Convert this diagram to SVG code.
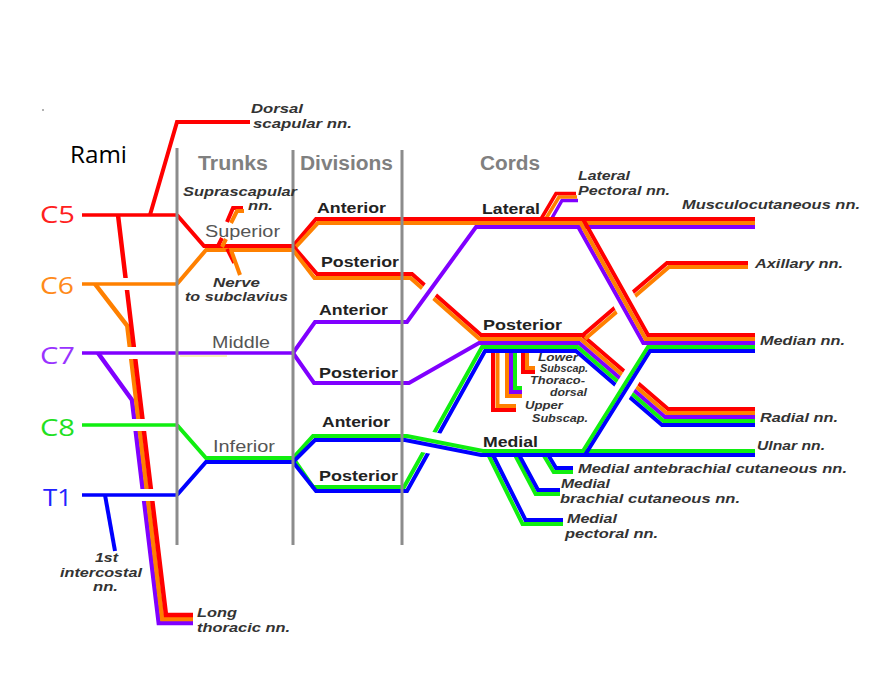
<svg xmlns="http://www.w3.org/2000/svg" width="892" height="673" viewBox="0 0 892 673">
<style>
.ln{fill:none;stroke-width:4;stroke-linejoin:miter;stroke-miterlimit:6}
.th{stroke-width:3.5}
.lt{stroke-width:4.5}
.r{stroke:#ff0000}.o{stroke:#ff8000}.p{stroke:#8000ff}.g{stroke:#10ee10}.b{stroke:#0000ff}
.w{stroke:#ffffff;fill:none}
.grid{stroke:#8c8c8c;stroke-width:3}
text{font-family:"Liberation Sans",Arial,sans-serif}
.it{font-size:13px;font-weight:bold;font-style:italic;fill:#333}
.its{font-size:10px;font-weight:bold;font-style:italic;fill:#333}
.dv{font-size:15px;font-weight:bold;fill:#222}
.tr{font-size:16px;fill:#555}
.hd{font-size:20px;font-weight:bold;fill:#808080}
.rm{font-family:"Open Sans","Noto Sans",sans-serif;font-size:24px}
</style>
<rect width="892" height="673" fill="#ffffff"/>
<circle cx="43" cy="110" r="1" fill="#999"/>

<g id="connectors">
  <!-- long thoracic bundle -->
  <path class="ln lt p" d="M98,353 L132,400 L158.8,623 L193,623"/>
  <path class="ln lt o" d="M95,284 L127.3,326 L162.3,619 L193,619"/>
  <path class="ln lt r" d="M118,215 L166,615 L193,615"/>
  <!-- bridges over long thoracic -->
  <path class="w" stroke-width="12" d="M117,284 H137 M122,353 H146 M128,425 H153 M135,495 H161"/>
  <!-- rami -->
  <path class="ln th r" d="M82,215 H177"/>
  <path class="ln th o" d="M82,284 H177"/>
  <path class="ln th p" d="M82,353 H293"/>
  <path class="ln th g" d="M82,425 H177"/>
  <path class="ln th b" d="M82,495 H177"/>
  <path d="M180,356 H227" stroke="#f5ec9c" stroke-width="1.5"/>
  <!-- dorsal scapular, 1st intercostal -->
  <path class="ln r" d="M150,215 L177,122 H250"/>
  <path class="ln b" d="M105,495 L115,551"/>
  <!-- trunks -->
  <path class="ln r" d="M177,215 L204,246 H293"/>
  <path class="ln o" d="M177,284 L206,250 H293"/>
  <path class="ln g" d="M177,425 L206,458 H293"/>
  <path class="ln b" d="M177,495 L206,462 H293"/>
  <!-- suprascapular / subclavius -->
  <path class="ln r" d="M218,246 L222,238 M227,222 L233,208 H243"/>
  <path class="ln o" d="M222,247 L226,239 M231,223 L237,211 H244"/>
  <path class="ln th r" d="M227,249 L234,263"/>
  <path class="ln o" stroke-width="4.5" d="M231,250 L240,275"/>
  <!-- lateral pectoral -->
  <path class="ln th p" d="M548,225 L562,200.5 H578"/>
  <path class="ln th o" d="M544.5,221 L559,197 H577"/>
  <path class="ln th r" d="M541,219 L556,193.5 H576"/>
  <!-- superior anterior -> lateral -> musculocutaneous -->
  <path class="ln r" d="M293,246 L316,219 H755"/>
  <path class="ln o" d="M293,250 L318,223 H755"/>
  <!-- subscapular branches -->
  <path class="ln r" d="M493,345 V410 H516"/>
  <path class="ln o" d="M497.5,345 V406 H516"/>
  <path class="ln o" d="M507,345 V396 H522"/>
  <path class="ln p" d="M511,345 V392 H522"/>
  <path class="ln g" d="M515,345 V388 H522"/>
  <path class="ln r" d="M523,345 V372 H535"/>
  <path class="ln o" d="M527,345 V368 H535"/>
  <!-- posterior divisions -> posterior cord -> radial -->
  <path class="ln r" d="M293,246 L317,274 H412 L481,335 H582 L668,409 H755"/>
  <path class="ln o" d="M293,250 L314.5,278 H410.5 L479.5,339 H580.5 L666.5,413 H755"/>
  <path class="ln p" d="M293,353 L314,383 H409 L479,343 H579 L665,417 H755"/>
  <path class="ln g" d="M293,458 L313,487 H404 L482,347 H577.6 L663.6,421 H755"/>
  <path class="ln b" d="M293,462 L316,491 H407 L485,351 H576 L662,425 H755"/>
  <!-- axillary -->
  <path class="ln o" d="M585,339 L669,267 H748"/>
  <path class="ln r" d="M583,335 L667,263 H748"/>
  <!-- middle anterior -> lateral cord -->
  <path class="w" stroke-width="15" d="M421.5,302 L439,278"/>
  <path class="ln p" d="M293,353 L315,322 H407 L476,227 H755"/>
  <!-- lateral root of median -->
  <path class="w" stroke-width="24" d="M615.9,286 L632.7,316"/>
  <path class="ln p" d="M578.3,227 L643.3,343 H755"/>
  <path class="ln o" d="M580.6,223 L645.6,339 H755"/>
  <path class="ln r" d="M583,219 L648,335 H755"/>
  <!-- medial cord branches -->
  <path class="ln g" d="M487.5,453 L522.5,524 H563"/>
  <path class="ln b" d="M492,453 L525.5,520 H563"/>
  <path class="ln g" d="M514,453 L535.6,494 H560"/>
  <path class="ln b" d="M518,453 L538,490 H560"/>
  <path class="ln g" d="M542.3,453 L553.7,472 H573"/>
  <path class="ln b" d="M547,453 L556,468 H573"/>
  <!-- inferior anterior -> medial cord -> ulnar -->
  <path class="w" stroke-width="22" d="M416,439.8 L446,445.7"/>
  <path class="ln g" d="M293,458 L313,436 H407 L483,451 H755"/>
  <path class="ln b" d="M293,462 L315,440 H405 L481,455 H755"/>
  <!-- medial root of median -->
  <path class="w" stroke-width="19" d="M617,400 L638.4,366"/>
  <path class="ln g" d="M583,451 L648,347 H755"/>
  <path class="ln b" d="M585,455 L650,351 H755"/>
</g>

<g id="grid">
  <path class="grid" d="M177,148 V545 M293,150 V545 M402,150 V545"/>
</g>

<g id="headers">
  <text class="rm" x="70" y="163" textLength="57" lengthAdjust="spacingAndGlyphs" fill="#000">Rami</text>
  <text class="hd" x="198" y="170" textLength="70" lengthAdjust="spacingAndGlyphs">Trunks</text>
  <text class="hd" x="300" y="170" textLength="93" lengthAdjust="spacingAndGlyphs">Divisions</text>
  <text class="hd" x="480" y="170" textLength="60" lengthAdjust="spacingAndGlyphs">Cords</text>
</g>

<g id="rami">
  <text class="rm" x="40" y="223" textLength="35" lengthAdjust="spacingAndGlyphs" fill="#ff2020">C5</text>
  <text class="rm" x="40" y="294" textLength="34" lengthAdjust="spacingAndGlyphs" fill="#ff8a1a">C6</text>
  <text class="rm" x="40" y="364" textLength="35" lengthAdjust="spacingAndGlyphs" fill="#9933ff">C7</text>
  <text class="rm" x="40" y="436" textLength="35" lengthAdjust="spacingAndGlyphs" fill="#22e022">C8</text>
  <text class="rm" x="43" y="506" textLength="29" lengthAdjust="spacingAndGlyphs" fill="#2222ff">T1</text>
</g>

<g id="trunks">
  <text class="tr" x="205" y="237" textLength="75" lengthAdjust="spacingAndGlyphs">Superior</text>
  <text class="tr" x="212" y="348" textLength="58" lengthAdjust="spacingAndGlyphs">Middle</text>
  <text class="tr" x="213" y="452" textLength="62" lengthAdjust="spacingAndGlyphs">Inferior</text>
</g>

<g id="divisions">
  <text class="dv" x="317" y="213" textLength="69" lengthAdjust="spacingAndGlyphs">Anterior</text>
  <text class="dv" x="321" y="267" textLength="78" lengthAdjust="spacingAndGlyphs">Posterior</text>
  <text class="dv" x="319" y="315" textLength="69" lengthAdjust="spacingAndGlyphs">Anterior</text>
  <text class="dv" x="319" y="378" textLength="79" lengthAdjust="spacingAndGlyphs">Posterior</text>
  <text class="dv" x="322" y="427" textLength="68" lengthAdjust="spacingAndGlyphs">Anterior</text>
  <text class="dv" x="319" y="481" textLength="79" lengthAdjust="spacingAndGlyphs">Posterior</text>
</g>

<g id="cords">
  <text class="dv" x="482" y="214" textLength="58" lengthAdjust="spacingAndGlyphs">Lateral</text>
  <text class="dv" x="483" y="330" textLength="79" lengthAdjust="spacingAndGlyphs">Posterior</text>
  <text class="dv" x="483" y="447" textLength="55" lengthAdjust="spacingAndGlyphs">Medial</text>
</g>

<g id="branches">
  <text class="it" x="251" y="113" textLength="52" lengthAdjust="spacingAndGlyphs">Dorsal</text>
  <text class="it" x="253" y="128" textLength="99" lengthAdjust="spacingAndGlyphs">scapular nn.</text>
  <text class="it" x="183" y="196" textLength="114" lengthAdjust="spacingAndGlyphs">Suprascapular</text>
  <text class="it" x="248" y="210" textLength="25" lengthAdjust="spacingAndGlyphs">nn.</text>
  <text class="it" x="213" y="287" textLength="47" lengthAdjust="spacingAndGlyphs">Nerve</text>
  <text class="it" x="185" y="301" textLength="103" lengthAdjust="spacingAndGlyphs">to subclavius</text>
  <text class="it" x="578" y="180" textLength="52" lengthAdjust="spacingAndGlyphs">Lateral</text>
  <text class="it" x="578" y="195" textLength="92" lengthAdjust="spacingAndGlyphs">Pectoral nn.</text>
  <text class="it" x="682" y="209" textLength="178" lengthAdjust="spacingAndGlyphs">Musculocutaneous nn.</text>
  <text class="it" x="755" y="268" textLength="88" lengthAdjust="spacingAndGlyphs">Axillary nn.</text>
  <text class="it" x="760" y="345" textLength="85" lengthAdjust="spacingAndGlyphs">Median nn.</text>
  <text class="it" x="760" y="422" textLength="78" lengthAdjust="spacingAndGlyphs">Radial nn.</text>
  <text class="it" x="757" y="450" textLength="68" lengthAdjust="spacingAndGlyphs">Ulnar nn.</text>
  <text class="it" x="578" y="473" textLength="269" lengthAdjust="spacingAndGlyphs">Medial antebrachial cutaneous nn.</text>
  <text class="it" x="561" y="488" textLength="49" lengthAdjust="spacingAndGlyphs">Medial</text>
  <text class="it" x="560" y="503" textLength="180" lengthAdjust="spacingAndGlyphs">brachial cutaneous nn.</text>
  <text class="it" x="567" y="523" textLength="50" lengthAdjust="spacingAndGlyphs">Medial</text>
  <text class="it" x="565" y="538" textLength="93" lengthAdjust="spacingAndGlyphs">pectoral nn.</text>
  <text class="its" x="538" y="361" textLength="40" lengthAdjust="spacingAndGlyphs">Lower</text>
  <text class="its" x="540" y="372" textLength="48" lengthAdjust="spacingAndGlyphs">Subscap.</text>
  <text class="its" x="530" y="384" textLength="55" lengthAdjust="spacingAndGlyphs">Thoraco-</text>
  <text class="its" x="550" y="396" textLength="37" lengthAdjust="spacingAndGlyphs">dorsal</text>
  <text class="its" x="525" y="409" textLength="38" lengthAdjust="spacingAndGlyphs">Upper</text>
  <text class="its" x="532" y="422" textLength="56" lengthAdjust="spacingAndGlyphs">Subscap.</text>
  <text class="it" x="197" y="617" textLength="40" lengthAdjust="spacingAndGlyphs">Long</text>
  <text class="it" x="197" y="632" textLength="93" lengthAdjust="spacingAndGlyphs">thoracic nn.</text>
  <text class="it" x="95" y="562" textLength="23" lengthAdjust="spacingAndGlyphs">1st</text>
  <text class="it" x="60" y="577" textLength="82" lengthAdjust="spacingAndGlyphs">intercostal</text>
  <text class="it" x="93" y="591" textLength="25" lengthAdjust="spacingAndGlyphs">nn.</text>
</g>
</svg>
